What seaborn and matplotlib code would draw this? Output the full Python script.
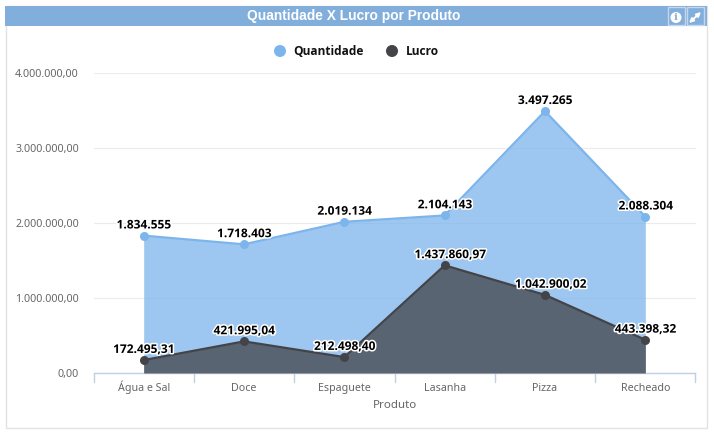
#!/usr/bin/env python3
import pandas as pd
import matplotlib
matplotlib.use('Agg')
import matplotlib.pyplot as plt
import matplotlib.patheffects as pe
from matplotlib.patches import Rectangle, Circle
import seaborn as sns

# ── Data ─────────────────────────────────────────────────
produtos = ["Água e Sal", "Doce", "Espaguete", "Lasanha", "Pizza", "Recheado"]
quantidade = [1834555, 1718403, 2019134, 2104143, 3497265, 2088304]
lucro = [172495.31, 421995.04, 212498.40, 1437860.97, 1042900.02, 443398.32]
y_ticks = [0, 1000000, 2000000, 3000000, 4000000]
titulo = "Quantidade X Lucro por Produto"

AZUL = "#7CB5EC"
ESCURO = "#434348"
W, H = 714, 436


def fmt(v, dec):
    s = f"{v:,.{dec}f}"
    return s.replace(",", "#").replace(".", ",").replace("#", ".")


sns.set_theme(style="white")
plt.rcParams['font.family'] = ['Noto Sans', 'DejaVu Sans']
BOLD = ["Open Sans", "Liberation Sans"]

df = pd.DataFrame({"x": range(len(produtos)), "Quantidade": quantidade, "Lucro": lucro})

fig = plt.figure(figsize=(W / 100, H / 100), dpi=100, facecolor="white")
ax = fig.add_axes([93.5 / W, 1 - 373 / H, 602 / W, 299.5 / H])

# ── Areas ────────────────────────────────────────────────
ax.fill_between(df["x"], df["Quantidade"], color=AZUL, alpha=0.75, lw=0, zorder=2)
ax.fill_between(df["x"], df["Lucro"], color=ESCURO, alpha=0.75, lw=0, zorder=3)
sns.lineplot(data=df, x="x", y="Quantidade", color=AZUL, lw=1.6, marker="o", ms=6.5,
             mew=0, ax=ax, zorder=4)
sns.lineplot(data=df, x="x", y="Lucro", color=ESCURO, lw=1.6, marker="o", ms=6.5,
             mew=0, ax=ax, zorder=5)

# ── Axes ─────────────────────────────────────────────────
ax.set_xlim(-0.5, 5.5)
ax.set_ylim(0, 4000000)
ax.set_yticks(y_ticks)
ax.set_yticklabels([fmt(v, 2) for v in y_ticks], fontsize=7.7, color="#666666")
ax.set_xticks(df["x"])
ax.set_xticklabels(produtos, fontsize=7.7, color="#666666", va="baseline")
ax.tick_params(axis="x", length=0, pad=13)
ax.tick_params(axis="y", length=0, pad=10.5)
for edge in [-0.5, 0.5, 1.5, 2.5, 3.5, 4.5, 5.5]:
    ax.plot([edge, edge], [0, -0.03], transform=ax.get_xaxis_transform(), color="#C0D0E0",
            lw=1, clip_on=False)
ax.set_xlabel("Produto", fontsize=8.3, color="#666666")
ax.xaxis.set_label_coords(0.5, -0.09)
ax.set_ylabel("")
ax.grid(axis="y", color="#EBEBEB", lw=0.8)
ax.set_axisbelow(True)
sns.despine(ax=ax, left=True)
ax.spines["bottom"].set_color("#C0D0E0")
ax.spines["bottom"].set_linewidth(1)

# ── Value labels ─────────────────────────────────────────
halo = [pe.withStroke(linewidth=2.2, foreground="white")]
for i, v in enumerate(quantidade):
    ax.annotate(fmt(v, 0), (i, v), xytext=(0, 3), textcoords="offset points", ha="center",
                va="bottom", fontsize=8.6, fontweight="bold", color="black", family=BOLD,
                path_effects=halo, zorder=6)
for i, v in enumerate(lucro):
    # the two labels over a million sit a little to the right in the original
    dx = 3.8 if v >= 1000000 else 0
    ax.annotate(fmt(v, 2), (i, v), xytext=(dx, 3), textcoords="offset points", ha="center",
                va="bottom", fontsize=8.6, fontweight="bold", color="black", family=BOLD,
                path_effects=halo, zorder=6)

# ── Panel, header and legend (overlay in figure pixels) ──
ov = fig.add_axes([0, 0, 1, 1], zorder=10)
ov.set_xlim(0, W)
ov.set_ylim(H, 0)
ov.axis("off")

ov.add_patch(Rectangle((5.5, 6), 701, 422, fc="none", ec="#E3E3E3", lw=1))
ov.add_patch(Rectangle((5, 6), 702, 20, fc="#82AEDB", ec="none"))
ov.text(354, 16, titulo, ha="center", va="center", fontsize=9.9, fontweight="bold",
        color="white", family=["Liberation Sans"])

for x0 in [667.5, 686.5]:
    ov.add_patch(Rectangle((x0, 7), 17.5, 18, fc="none", ec="#C3D6EC", lw=1))
ov.add_patch(Circle((676, 17.5), 5.5, fc="white", ec="none"))
ov.text(676, 17.5, "i", ha="center", va="center", fontsize=7.5, fontweight="bold",
        color="#82AEDB", family=["DejaVu Serif"])
ov.annotate("", xy=(701, 12), xytext=(689, 23),
            arrowprops=dict(arrowstyle="<|-|>", mutation_scale=6, color="white", lw=1.4,
                            shrinkA=0, shrinkB=0))

for cx, tx, cor, nome in [(280, 293, AZUL, "Quantidade"), (392, 406, ESCURO, "Lucro")]:
    ov.add_patch(Circle((cx, 51), 6, fc=cor, ec="none"))
    ov.text(tx, 51.5, nome, ha="left", va="center", fontsize=8.6, fontweight="bold",
            color="#111111", family=BOLD)

fig.savefig("out.png", dpi=100)
